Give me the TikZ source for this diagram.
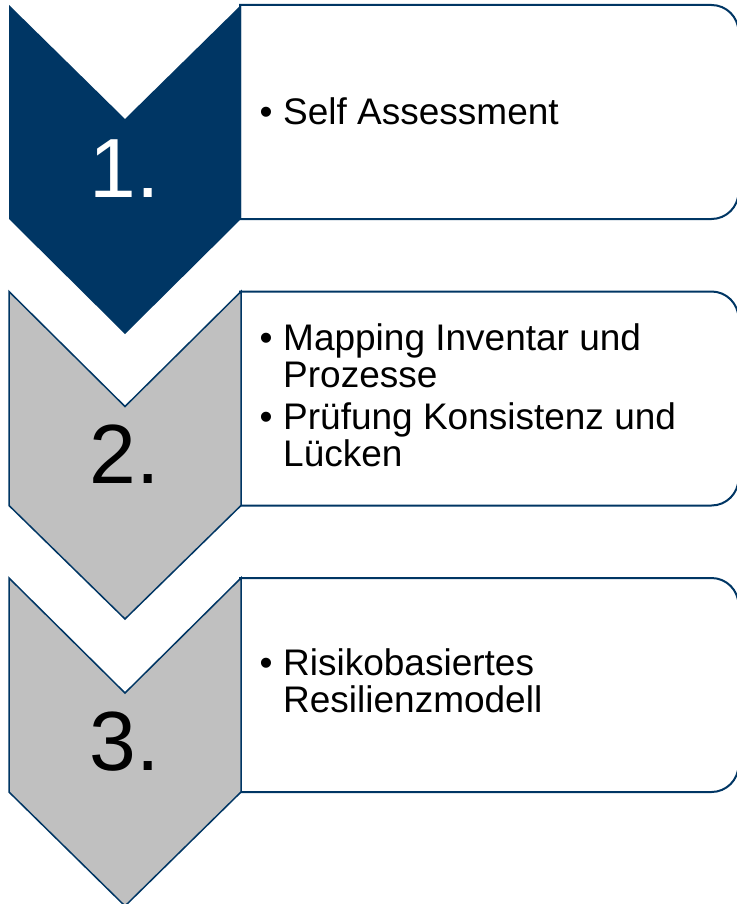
\documentclass[tikz,border=0pt]{standalone}
\usepackage{fontspec}
\setmainfont{Liberation Sans}
\definecolor{navy}{RGB}{0,54,100}
\definecolor{chgray}{RGB}{192,192,192}
\newcommand\bitem[1]{\noindent\hangindent=23.5pt\hangafter=1\makebox[23.5pt][l]{•}#1\par}
\newcommand\blist[1]{\vtop{\hsize=470pt\parskip=0pt\parindent=0pt\rightskip=0pt plus 1fil #1}}
\begin{document}
\begin{tikzpicture}[x=1pt,y=-1pt,
  box/.style={draw=navy, line width=2pt, fill=white},
  chevdark/.style={fill=navy},
  chevlight/.style={fill=chgray, draw=navy, line width=1.5pt, line join=miter},
  num/.style={font=\fontsize{84}{84}\selectfont, inner sep=0pt, anchor=base},
  txt/.style={font=\fontsize{37}{37}\selectfont, inner sep=0pt, anchor=base west}]
\useasboundingbox (0,0) rectangle (736,904);

% boxes
\draw[box] (240,5) -- (711.5,5) .. controls (726.4,5) and (738.5,17.1) .. (738.5,32)
  -- (738.5,192) .. controls (738.5,206.9) and (726.4,219) .. (711.5,219) -- (240,219) -- cycle;
\draw[box] (240,291.5) -- (711.5,291.5) .. controls (726.4,291.5) and (738.5,303.6) .. (738.5,318.5)
  -- (738.5,478.5) .. controls (738.5,493.4) and (726.4,505.5) .. (711.5,505.5) -- (240,505.5) -- cycle;
\draw[box] (240,578) -- (711.5,578) .. controls (726.4,578) and (738.5,590.1) .. (738.5,605)
  -- (738.5,765) .. controls (738.5,779.9) and (726.4,792) .. (711.5,792) -- (240,792) -- cycle;

% chevrons
\path[chevdark] (9,5) -- (125,119) -- (241,5) -- (241,219) -- (125,334) -- (9,219) -- cycle;
\path[chevlight] (9,291.5) -- (125,406.5) -- (241,291.5) -- (241,505.5) -- (125,619) -- (9,505.5) -- cycle;
\path[chevlight] (9,578) -- (125,693) -- (241,578) -- (241,792) -- (125,906) -- (9,792) -- cycle;

% numbers
\node[num, text=white] (n1) at (125,197) {1.};
\node[num, text=black] (n2) at (125,483) {2.};
\node[num, text=black] (n3) at (125,770) {3.};

% texts
\node[txt] (t1) at (259.5,125) {\blist{\bitem{Self Assessment}}};
\node[txt] (t2) at (259.5,350) {\blist{\bitem{Mapping Inventar und\hfil\break Prozesse}\vskip5pt\bitem{Prüfung Konsistenz und\hfil\break Lücken}}};
\node[txt] (t3) at (259.5,675) {\blist{\bitem{Risikobasiertes\hfil\break Resilienzmodell}}};
\end{tikzpicture}
\end{document}
